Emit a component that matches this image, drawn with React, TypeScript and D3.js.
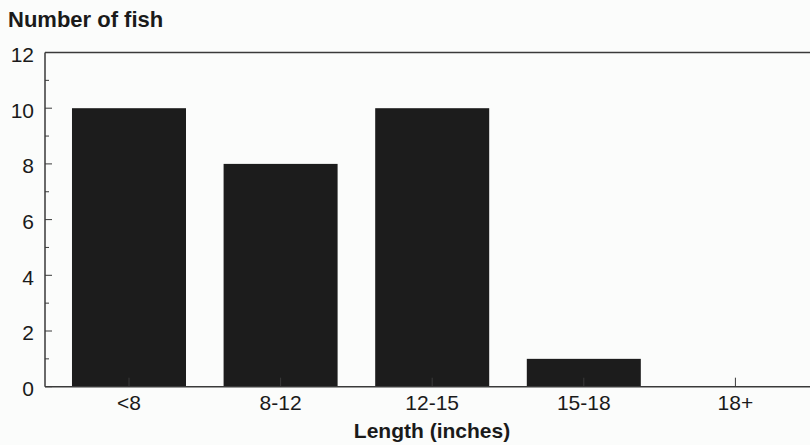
import React, { useEffect, useRef } from 'react';
import * as d3 from 'd3';

const categories = ['<8', '8-12', '12-15', '15-18', '18+'];
const counts = [10, 8, 10, 1, 0];
const yTicks = [0, 2, 4, 6, 8, 10, 12];
const yMinorTicks = [1, 3, 5, 7, 9, 11];

const width = 810;
const height = 445;

const App: React.FC = () => {
  const svgRef = useRef<SVGSVGElement>(null);

  useEffect(() => {
    if (!svgRef.current) return;
    const svg = d3.select(svgRef.current);
    svg.selectAll('*').remove();

    const left = 45;
    const top = 52.5;
    const bottom = 386.7;
    const font = 'Liberation Sans, Arial, sans-serif';

    svg.append('rect').attr('width', width).attr('height', height).attr('fill', '#fbfcfb');

    // plot runs off the right edge of the scan
    const x = d3.scaleBand<string>()
      .domain(categories)
      .range([left, 819.4])
      .paddingInner(0.248)
      .paddingOuter(0.178);

    const y = d3.scaleLinear().domain([0, 12]).range([bottom, top]);

    // Bars
    svg.append('g')
      .selectAll('rect')
      .data(categories)
      .enter()
      .append('rect')
      .attr('x', d => x(d)!)
      .attr('width', x.bandwidth())
      .attr('y', (d, i) => y(counts[i]))
      .attr('height', (d, i) => bottom - y(counts[i]))
      .attr('fill', '#1c1c1c');

    // Frame lines
    const lineColor = '#3a3a3a';
    svg.append('line')
      .attr('x1', left).attr('x2', width).attr('y1', top).attr('y2', top)
      .attr('stroke', lineColor).attr('stroke-width', 1.3);
    svg.append('line')
      .attr('x1', left).attr('x2', width).attr('y1', bottom).attr('y2', bottom)
      .attr('stroke', lineColor).attr('stroke-width', 1.5);
    svg.append('line')
      .attr('x1', left).attr('x2', left).attr('y1', top).attr('y2', bottom)
      .attr('stroke', lineColor).attr('stroke-width', 1.5);

    // Y ticks (inside)
    svg.append('g')
      .selectAll('line.major')
      .data(yTicks)
      .enter()
      .append('line')
      .attr('x1', left).attr('x2', left + 7)
      .attr('y1', d => y(d)).attr('y2', d => y(d))
      .attr('stroke', lineColor).attr('stroke-width', 1);
    svg.append('g')
      .selectAll('line.minor')
      .data(yMinorTicks)
      .enter()
      .append('line')
      .attr('x1', left).attr('x2', left + 4)
      .attr('y1', d => y(d)).attr('y2', d => y(d))
      .attr('stroke', lineColor).attr('stroke-width', 1);

    svg.append('g')
      .selectAll('text')
      .data(yTicks)
      .enter()
      .append('text')
      .attr('x', 34)
      .attr('y', d => y(d) + 2)
      .attr('dy', '0.35em')
      .attr('text-anchor', 'end')
      .style('font-family', font)
      .style('font-size', '21px')
      .style('fill', '#1a1a1a')
      .text(d => d);

    // X ticks (inside, upward)
    svg.append('g')
      .selectAll('line')
      .data(categories)
      .enter()
      .append('line')
      .attr('x1', d => x(d)! + x.bandwidth() / 2)
      .attr('x2', d => x(d)! + x.bandwidth() / 2)
      .attr('y1', bottom).attr('y2', bottom - 9)
      .attr('stroke', lineColor).attr('stroke-width', 1);

    svg.append('g')
      .selectAll('text')
      .data(categories)
      .enter()
      .append('text')
      .attr('x', d => x(d)! + x.bandwidth() / 2)
      .attr('y', 410)
      .attr('text-anchor', 'middle')
      .style('font-family', font)
      .style('font-size', '21px')
      .style('fill', '#1a1a1a')
      .text(d => d);

    // Titles
    svg.append('text')
      .attr('x', 8)
      .attr('y', 27)
      .style('font-family', font)
      .style('font-size', '22px')
      .style('font-weight', 'bold')
      .style('fill', '#1a1a1a')
      .text('Number of fish');

    svg.append('text')
      .attr('x', 432)
      .attr('y', 438)
      .attr('text-anchor', 'middle')
      .style('font-family', font)
      .style('font-size', '21px')
      .style('font-weight', 'bold')
      .style('fill', '#1a1a1a')
      .text('Length (inches)');
  }, []);

  return (
    <svg
      ref={svgRef}
      width={width}
      height={height}
      style={{ position: 'absolute', left: 0, top: 0, display: 'block' }}
    />
  );
};

export default App;
